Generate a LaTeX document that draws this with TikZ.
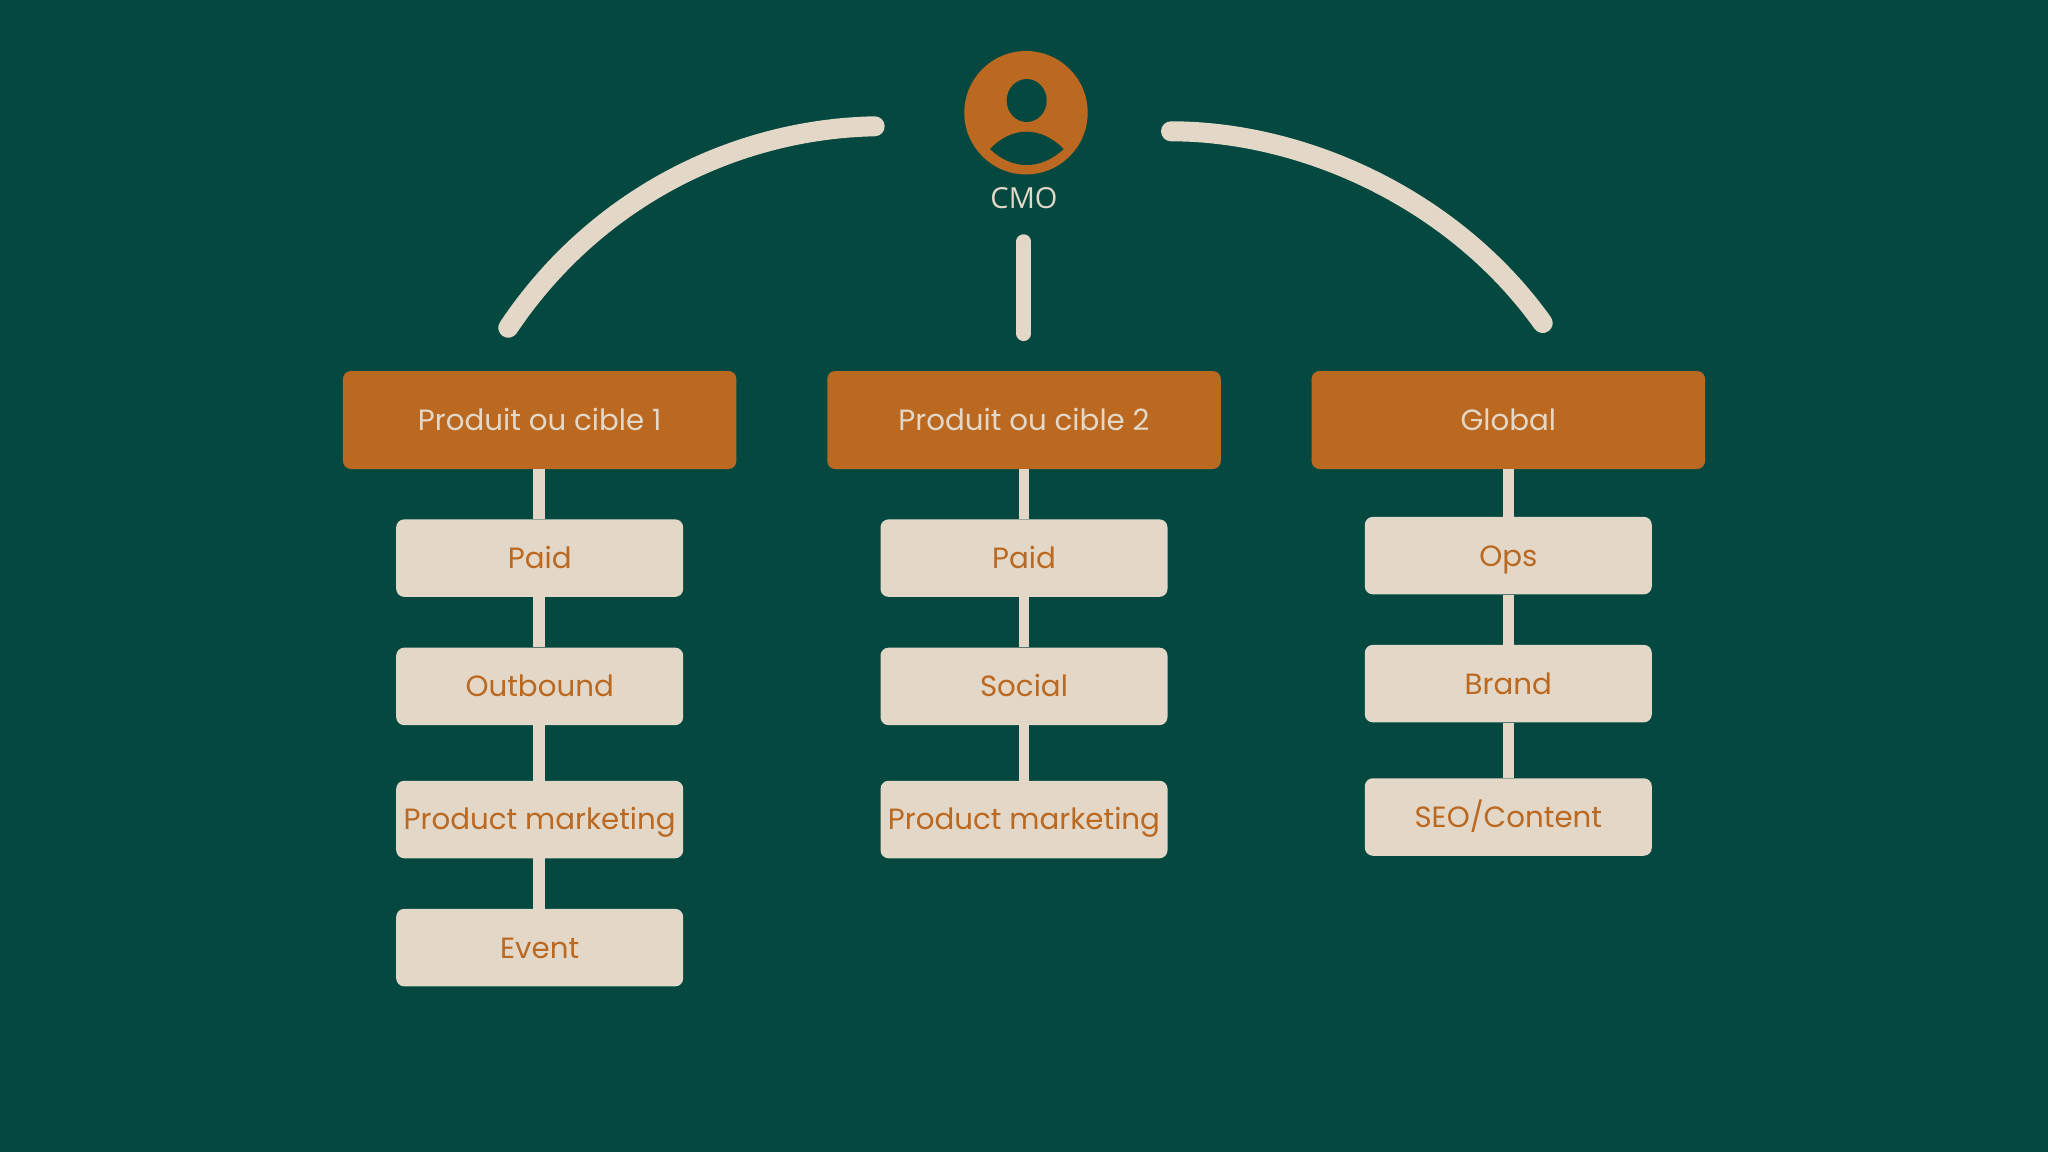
\documentclass[tikz,border=0pt]{standalone}
\usepackage{fontspec}
\setmainfont{Poppins}
\newfontfamily\cmofont{Open Sans}
\definecolor{bgc}{HTML}{044840}
\definecolor{orc}{HTML}{BB6821}
\definecolor{crc}{HTML}{E3D8C8}
\tikzset{
  x=1pt,y=-1pt,
  headbox/.style={draw=none,fill=orc,rounded corners=8pt,text=crc,minimum width=393.5pt,minimum height=98pt,inner sep=0pt,text height=20.4pt,text depth=0pt,font=\fontsize{29.3}{35}\selectfont},
  subbox/.style={draw=none,fill=crc,rounded corners=8pt,text=orc,minimum width=287pt,minimum height=77.5pt,inner sep=0pt,text height=20.8pt,text depth=0pt,font=\fontsize{29.3}{35}\selectfont},
  widelink/.style={draw=crc,line width=12.3pt},
  link/.style={draw=crc,line width=10.7pt},
  arcline/.style={draw=crc,line width=20pt,line cap=round},
  stem/.style={draw=crc,line width=14.7pt,line cap=round},
}
\begin{document}
\begin{tikzpicture}
\useasboundingbox (0,0) rectangle (2048,1152);
\fill[bgc] (0,0) rectangle (2048,1152);
% avatar
\node[circle,fill=orc,draw=none,minimum size=123.4pt,inner sep=0pt] (cmo) at (1026,112.7) {};
\fill[bgc] (1026.7,100.5) ellipse [x radius=20,y radius=21.5];
\fill[bgc] (990,149) .. controls (1012,125.9) and (1041,125.9) .. (1063.7,149)
   .. controls (1041,170.3) and (1012,170.3) .. (990,149) -- cycle;
\node[anchor=base,text=crc,inner sep=0pt,font=\cmofont\fontsize{29}{34}\selectfont] (lab) at (1024,208) {CMO};
% heads
\node[headbox] (h1) at (539.7,420) {Produit ou cible 1};
\node[headbox] (h2) at (1024,420) {Produit ou cible 2};
\node[headbox] (h3) at (1508.3,420) {Global};
% column 1
\node[subbox] (a1) at (539.7,558.1) {Paid};
\node[subbox] (a2) at (539.7,686.4) {Outbound};
\node[subbox] (a3) at (539.7,819.5) {Product marketing};
\node[subbox] (a4) at (539.7,947.6) {Event};
% column 2
\node[subbox] (b1) at (1024,558.1) {Paid};
\node[subbox] (b2) at (1024,686.4) {Social};
\node[subbox] (b3) at (1024,819.5) {Product marketing};
% column 3
\node[subbox] (c1) at (1508.3,555.6) {Ops};
\node[subbox] (c2) at (1508.3,683.6) {Brand};
\node[subbox] (c3) at (1508.3,817) {SEO/Content};
% links
\foreach \p/\q in {h1/a1,a1/a2,a2/a3,a3/a4}
  \draw[widelink] ([xshift=-1pt]\p.south) -- ([xshift=-1pt]\q.north);
\foreach \p/\q in {h2/b1,b1/b2,b2/b3,h3/c1,c1/c2,c2/c3}
  \draw[link] (\p.south) -- (\q.north);
% arcs and stem
\coordinate (la) at (874.7,126.3);
\coordinate (lb) at (508.3,327.7);
\coordinate (ra) at (1171,131.3);
\coordinate (rb) at (1542.7,323);
\coordinate (sa) at (1023.7,241.6);
\coordinate (sb) at (1023.7,333.7);
\draw[arcline] (la) .. controls (735,129) and (595,198) .. (lb);
\draw[arcline] (ra) .. controls (1305,131.3) and (1455,200) .. (rb);
\draw[stem] (sa) -- (sb);
\end{tikzpicture}
\end{document}
